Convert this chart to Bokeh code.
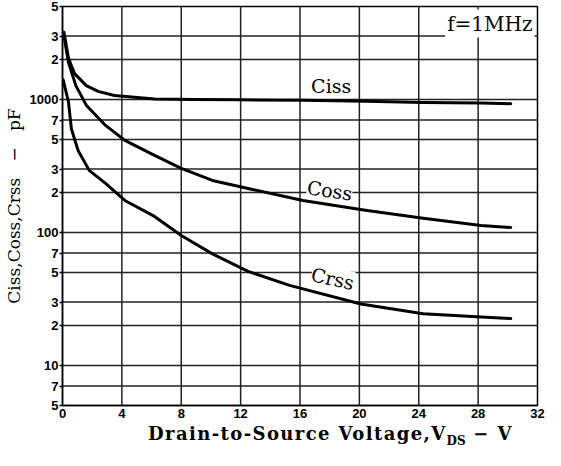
from bokeh.plotting import figure
from bokeh.models import FixedTicker, Label, Range1d, Div
from bokeh.layouts import column
from bokeh.embed import file_html
from bokeh.resources import INLINE

# ---- data ----
ciss_v = [0.1, 0.4, 0.8, 1.6, 2.4, 3.5, 6.2, 8.8, 12.0, 16.2, 20.4, 24.3, 28.2, 30.2]
ciss_c = [3200, 2050, 1570, 1270, 1150, 1070, 1010, 1000, 995, 985, 970, 950, 940, 930]

coss_v = [0.1, 0.4, 0.9, 1.6, 2.9, 4.2, 6.2, 8.0, 10.1, 12.5, 16.2, 20.4, 24.3, 28.2, 30.2]
coss_c = [3000, 1900, 1270, 906, 638, 492, 380, 303, 246, 214, 174, 147, 128, 113, 109]

crss_v = [0.05, 0.4, 0.6, 1.05, 1.8, 2.9, 4.2, 6.2, 8.0, 10.1, 12.5, 15.3, 20.1, 24.3, 28.2, 30.2]
crss_c = [1400, 960, 600, 414, 293, 234, 174, 132, 95, 69, 51, 40, 29, 24.5, 23.1, 22.5]

x_ticks = [0, 4, 8, 12, 16, 20, 24, 28, 32]
y_ticks = [5, 7, 10, 20, 30, 50, 70, 100, 200, 300, 500, 700, 1000, 2000, 3000, 5000]
y_tick_labels = ["5", "7", "10", "2", "3", "5", "7", "100", "2", "3", "5", "7", "1000", "2", "3", "5"]

X_MIN, X_MAX = x_ticks[0], x_ticks[-1]
Y_MIN, Y_MAX = y_ticks[0], y_ticks[-1]

SERIF = "DejaVu Serif"
SANS = "Liberation Sans"
NB = "\u00a0"

p = figure(width=545, height=423, y_axis_type="log",
           x_range=Range1d(X_MIN, X_MAX), y_range=Range1d(Y_MIN, Y_MAX),
           output_backend="svg", toolbar_location=None,
           min_border_left=58, min_border_right=8, min_border_top=6, min_border_bottom=18)

p.outline_line_color = "black"
p.outline_line_width = 1.5

# axes
p.xaxis.ticker = FixedTicker(ticks=x_ticks, minor_ticks=[])
p.yaxis.ticker = FixedTicker(ticks=y_ticks, minor_ticks=[])
p.yaxis.major_label_overrides = {t: l for t, l in zip(y_ticks, y_tick_labels)}
for ax in (p.xaxis, p.yaxis):
    ax.axis_line_color = "black"
    ax.axis_line_width = 1.5
    ax.major_tick_line_color = "black"
    ax.major_tick_line_width = 1.5
    ax.minor_tick_line_color = None
    ax.major_label_text_font = SANS
    ax.major_label_text_font_style = "bold"
    ax.major_label_text_font_size = "13px"
    ax.major_label_text_color = "black"
p.xaxis.major_tick_out = 0
p.xaxis.major_tick_in = 0
p.xaxis.major_label_standoff = 3
p.yaxis.major_tick_out = 3
p.yaxis.major_tick_in = 0
p.yaxis.major_label_standoff = 1
p.yaxis.axis_label = "Ciss,Coss,Crss" + NB * 3 + "\u2212" + NB * 3 + "pF"
p.yaxis.axis_label_text_font = SERIF
p.yaxis.axis_label_text_font_style = "normal"
p.yaxis.axis_label_text_font_size = "17px"
p.yaxis.axis_label_text_color = "black"
p.yaxis.axis_label_standoff = 3

# grid drawn as glyph lines at the tick positions
p.xgrid.grid_line_color = None
p.ygrid.grid_line_color = None
grid_xs = [[t, t] for t in x_ticks[1:-1]] + [[X_MIN, X_MAX] for _ in y_ticks[1:-1]]
grid_ys = [[Y_MIN, Y_MAX] for _ in x_ticks[1:-1]] + [[t, t] for t in y_ticks[1:-1]]
p.multi_line(grid_xs, grid_ys, line_color="#222222", line_width=1.5)

# curves
for v, c in ((ciss_v, ciss_c), (coss_v, coss_c), (crss_v, crss_c)):
    p.line(v, c, line_color="black", line_width=3, line_join="round", line_cap="round")

# curve labels
p.add_layout(Label(x=18.1, y=1270, text="Ciss", text_font=SERIF, text_font_size="19px",
                   text_align="center", text_baseline="middle", text_color="black"))
p.add_layout(Label(x=18.0, y=207, text="Coss", text_font=SERIF, text_font_size="19px",
                   text_align="center", text_baseline="middle", text_color="black", angle=-0.15,
                   background_fill_color="white"))
p.add_layout(Label(x=18.2, y=45, text="Crss", text_font=SERIF, text_font_size="19px",
                   text_align="center", text_baseline="middle", text_color="black", angle=-0.22,
                   background_fill_color="white"))

# frequency note
p.add_layout(Label(x=X_MAX, y=Y_MAX, text="f=1MHz", text_font=SERIF, text_font_size="20px",
                   text_align="right", text_baseline="top", x_offset=-3, y_offset=-3,
                   text_color="black", background_fill_color="white", padding=2))

# x axis title with subscript
xtitle = Div(
    text=('<div style="font-family:\'DejaVu Serif\';font-weight:bold;font-size:18px;'
          'letter-spacing:1.4px;line-height:18px;color:black;white-space:nowrap;'
          'padding-left:148px;padding-top:2px;">'
          'Drain-to-Source Voltage,V<sub style="font-size:12px;line-height:0;letter-spacing:0;">DS</sub>'
          ' \u2212 V</div>'),
    width=545, height=27, margin=(0, 0, 0, 0))

layout = column(p, xtitle, spacing=0)

open("out.html", "w").write(file_html(layout, INLINE))
